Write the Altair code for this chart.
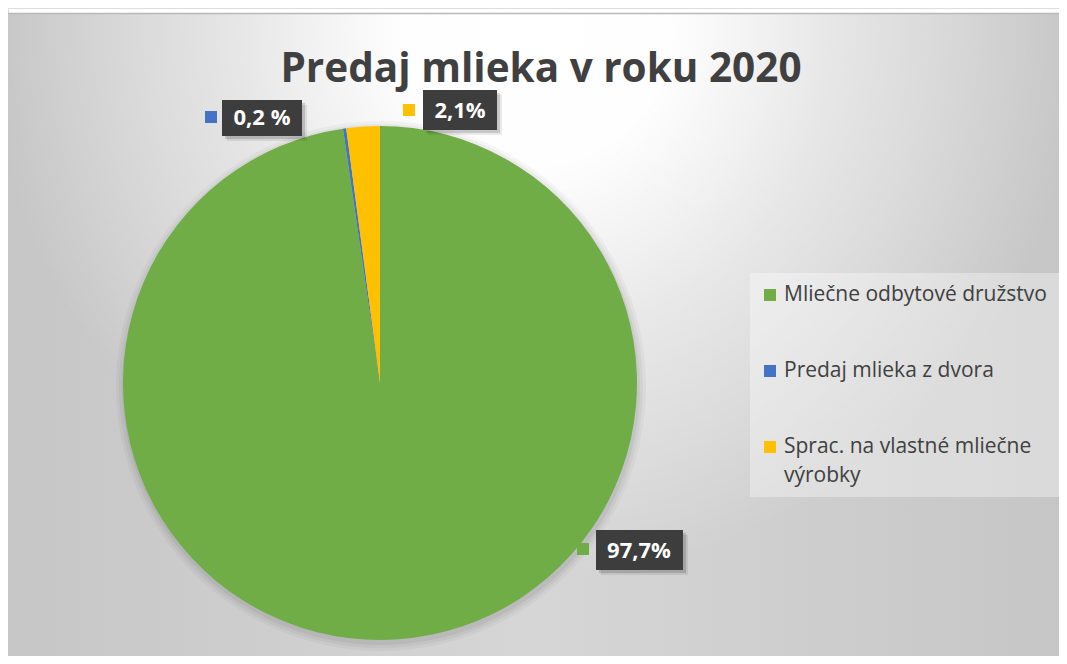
import math
import altair as alt
import pandas as pd

# ---------------- data ----------------
title_text = "Predaj mlieka v roku 2020"
categories = ["Mliečne odbytové družstvo", "Predaj mlieka z dvora", "Sprac. na vlastné mliečne výrobky"]
shares = [97.7, 0.2, 2.1]
share_labels = ["97,7%", "0,2 %", "2,1%"]
legend_lines = [["Mliečne odbytové družstvo"], ["Predaj mlieka z dvora"], ["Sprac. na vlastné mliečne", "výrobky"]]
colors = ["#70AD47", "#4472C4", "#FFC000"]

# ---------------- layout ----------------
W, H = 1051, 648
OFF = 8  # page margin


def P(v):
    return v - OFF


FONT = "Open Sans"
TXT = "#404040"
CX, CY, R = 380, 383, 257

one = pd.DataFrame({"k": [0]})
layers = []

# background panel
base_grad = {
    "gradient": "linear", "x1": 0, "y1": 0, "x2": 1, "y2": 0,
    "stops": [
        {"offset": 0, "color": "#c6c6c6"},
        {"offset": 0.5, "color": "#d6d6d6"},
        {"offset": 1, "color": "#c6c6c6"},
    ],
}
glow_grad = {
    "gradient": "radial", "x1": 0.503, "y1": 0.21, "r1": 0,
    "x2": 0.503, "y2": 0.21, "r2": 0.52,
    "stops": [
        {"offset": 0, "color": "rgba(255,255,255,1)"},
        {"offset": 0.25, "color": "rgba(255,255,255,0.97)"},
        {"offset": 0.55, "color": "rgba(255,255,255,0.5)"},
        {"offset": 1, "color": "rgba(255,255,255,0)"},
    ],
}
for g in (base_grad, glow_grad):
    layers.append(
        alt.Chart(one).mark_rect(color=g).encode(
            x=alt.value(P(7)), x2=alt.value(W), y=alt.value(P(13)), y2=alt.value(H)
        )
    )
layers.append(
    alt.Chart(one).mark_rule(color="#b8b8b8", strokeWidth=1.5).encode(
        x=alt.value(P(7)), x2=alt.value(W), y=alt.value(P(13.5))
    )
)

# pie shadow
for rr, op in [(265, 0.03), (262, 0.04), (259, 0.05)]:
    layers.append(
        alt.Chart(one).mark_arc(theta=0, theta2=2 * math.pi, radius=rr, color="black", opacity=op).encode(
            x=alt.value(P(CX + 1)), y=alt.value(P(CY + 3))
        )
    )

# pie
pie_df = pd.DataFrame({"cat": categories, "share": shares, "ord": list(range(len(categories)))})
layers.append(
    alt.Chart(pie_df).mark_arc(radius=R).encode(
        theta=alt.Theta("share:Q", stack=True),
        color=alt.Color("cat:N", scale=alt.Scale(domain=categories, range=colors), legend=None),
        order=alt.Order("ord:Q"),
        x=alt.value(P(CX)),
        y=alt.value(P(CY)),
    )
)

# title
layers.append(
    alt.Chart(pd.DataFrame({"t": [title_text]})).mark_text(
        font=FONT, fontSize=40.5, fontWeight="bold", color=TXT, align="center", baseline="alphabetic"
    ).encode(text="t:N", x=alt.value(P(541)), y=alt.value(P(82)))
)

# data labels (box, text centre, marker square)
label_layout = [
    dict(box=(596, 530, 683, 570), txt=(639, 551), sq=(577, 543, 589, 555)),
    dict(box=(222, 100, 302, 136), txt=(262, 118), sq=(205, 111, 217, 123)),
    dict(box=(423, 90, 497, 130), txt=(460, 111), sq=(403, 104, 415, 116)),
]
for i, lay in enumerate(label_layout):
    x1, y1, x2, y2 = lay["box"]
    for d, op in [(5, 0.08), (3, 0.15)]:
        layers.append(
            alt.Chart(one).mark_rect(color="black", opacity=op).encode(
                x=alt.value(P(x1 + d)), x2=alt.value(P(x2 + d)), y=alt.value(P(y1 + d)), y2=alt.value(P(y2 + d))
            )
        )
    layers.append(
        alt.Chart(one).mark_rect(color="#3d3d3d").encode(
            x=alt.value(P(x1)), x2=alt.value(P(x2)), y=alt.value(P(y1)), y2=alt.value(P(y2))
        )
    )
    sx1, sy1, sx2, sy2 = lay["sq"]
    layers.append(
        alt.Chart(one).mark_rect(color=colors[i]).encode(
            x=alt.value(P(sx1)), x2=alt.value(P(sx2)), y=alt.value(P(sy1)), y2=alt.value(P(sy2))
        )
    )
    tx, ty = lay["txt"]
    layers.append(
        alt.Chart(pd.DataFrame({"t": [share_labels[i]]})).mark_text(
            font=FONT, fontSize=22, fontWeight="bold", color="white", align="center", baseline="middle"
        ).encode(text="t:N", x=alt.value(P(tx)), y=alt.value(P(ty)))
    )

# legend
layers.append(
    alt.Chart(one).mark_rect(color="#ffffff", opacity=0.35).encode(
        x=alt.value(P(750)), x2=alt.value(P(1064)), y=alt.value(P(273)), y2=alt.value(P(497))
    )
)
row_y = [295, 371, 447]
line_h = 29
for i, lines in enumerate(legend_lines):
    yy = row_y[i]
    layers.append(
        alt.Chart(one).mark_rect(color=colors[i]).encode(
            x=alt.value(P(764)), x2=alt.value(P(776)), y=alt.value(P(yy - 6)), y2=alt.value(P(yy + 6))
        )
    )
    for j, line in enumerate(lines):
        layers.append(
            alt.Chart(pd.DataFrame({"t": [line]})).mark_text(
                font=FONT, fontSize=21, color=TXT, align="left", baseline="middle"
            ).encode(text="t:N", x=alt.value(P(784)), y=alt.value(P(yy + j * line_h)))
        )

chart = alt.layer(*layers).properties(
    width=W, height=H, autosize=alt.AutoSizeParams(type="none"), padding=0
).configure_view(stroke=None).configure(background="white")

chart.save("out.html", embed_options={"renderer": "svg", "actions": False})
